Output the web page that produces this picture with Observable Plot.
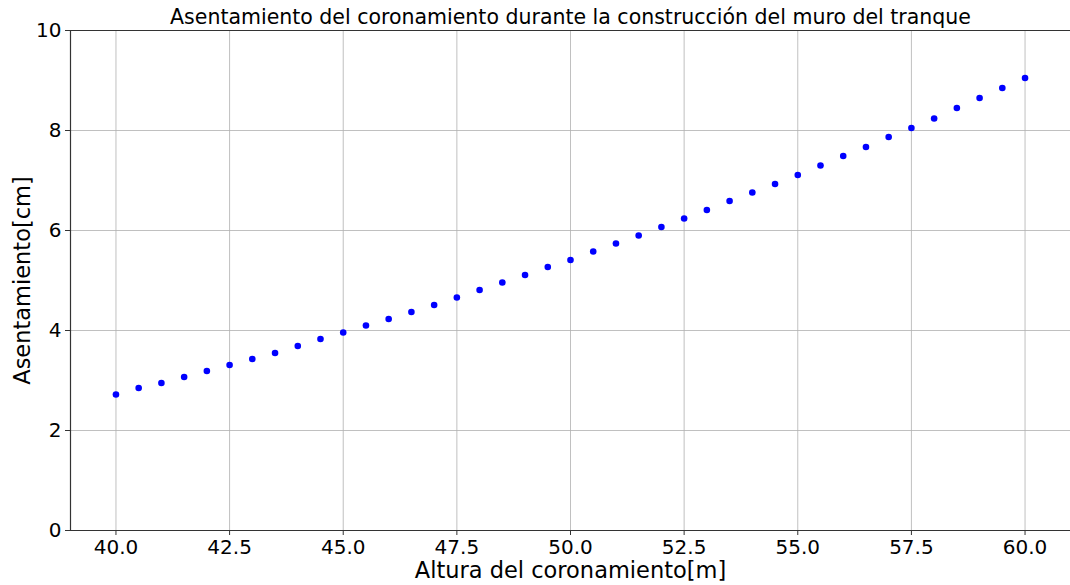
<!DOCTYPE html>
<html>
<head>
<meta charset="utf-8">
<script src="https://cdn.jsdelivr.net/npm/d3@7"></script>
<script src="https://cdn.jsdelivr.net/npm/@observablehq/plot@0.6"></script>
<style>
  html, body { margin: 0; padding: 0; background: #fff; overflow: hidden; }
  #chart svg { display: block; }
</style>
</head>
<body>
<div id="chart"></div>
<script>
// Crest height during construction of the dam wall [m]
const alturas = [
  40.0, 40.5, 41.0, 41.5, 42.0, 42.5, 43.0, 43.5, 44.0, 44.5,
  45.0, 45.5, 46.0, 46.5, 47.0, 47.5, 48.0, 48.5, 49.0, 49.5,
  50.0, 50.5, 51.0, 51.5, 52.0, 52.5, 53.0, 53.5, 54.0, 54.5,
  55.0, 55.5, 56.0, 56.5, 57.0, 57.5, 58.0, 58.5, 59.0, 59.5, 60.0
];
// Crest settlement [cm]
const asentamientos = [
  2.72, 2.85, 2.95, 3.07, 3.19, 3.31, 3.43, 3.55, 3.69, 3.83,
  3.96, 4.10, 4.23, 4.37, 4.51, 4.66, 4.81, 4.96, 5.11, 5.27,
  5.41, 5.58, 5.74, 5.90, 6.07, 6.24, 6.41, 6.59, 6.76, 6.93,
  7.11, 7.30, 7.49, 7.67, 7.87, 8.05, 8.24, 8.45, 8.65, 8.85, 9.05
];
const xTicks = [40.0, 42.5, 45.0, 47.5, 50.0, 52.5, 55.0, 57.5, 60.0];
const yTicks = [0, 2, 4, 6, 8, 10];

const titulo = "Asentamiento del coronamiento durante la construcción del muro del tranque";
const etiquetaX = "Altura del coronamiento[m]";
const etiquetaY = "Asentamiento[cm]";

const datos = alturas.map((h, i) => ({altura: h, asentamiento: asentamientos[i]}));

const W = 1070, H = 585;
const font = "DejaVu Sans, sans-serif";

const chart = Plot.plot({
  width: W,
  height: H,
  marginLeft: 70,
  marginRight: 0,
  marginTop: 30,
  marginBottom: 55,
  style: {fontFamily: font, fontSize: "20px", color: "#000", background: "#fff", overflow: "visible"},
  x: {domain: [39, 61], ticks: xTicks, label: null},
  y: {domain: [0, 10], ticks: yTicks, label: null},
  marks: [
    // grid
    Plot.gridX(xTicks, {stroke: "#b0b0b0", strokeOpacity: 0.8, strokeWidth: 1}),
    Plot.gridY(yTicks, {stroke: "#b0b0b0", strokeOpacity: 0.8, strokeWidth: 1}),
    // spines
    Plot.ruleX([39], {stroke: "#333", strokeWidth: 1.2}),
    Plot.ruleY([0], {stroke: "#333", strokeWidth: 1.2}),
    Plot.ruleY([10], {stroke: "#333", strokeWidth: 1.2}),
    // axes
    Plot.axisX(xTicks, {tickSize: 5, tickPadding: 4, fontSize: 20, tickFormat: d => d.toFixed(1), stroke: "#333", fill: "#000", label: null}),
    Plot.axisY(yTicks, {tickSize: 5, tickPadding: 4, fontSize: 20, tickFormat: d => String(d), stroke: "#333", fill: "#000", label: null}),
    // data
    Plot.dot(datos, {x: "altura", y: "asentamiento", r: 3.3, fill: "#0000ff", stroke: null}),
    // title
    Plot.text([titulo], {frameAnchor: "top", lineAnchor: "middle", dy: -13, fontSize: 20.5, fill: "#000"}),
    // axis labels
    Plot.text([etiquetaX], {frameAnchor: "bottom", lineAnchor: "middle", dy: 40, fontSize: 22.5, fill: "#000"}),
    Plot.text([etiquetaY], {frameAnchor: "left", lineAnchor: "middle", textAnchor: "middle", dx: -48, rotate: -90, fontSize: 22.5, fill: "#000"})
  ]
});

document.getElementById("chart").appendChild(chart);
</script>
</body>
</html>
